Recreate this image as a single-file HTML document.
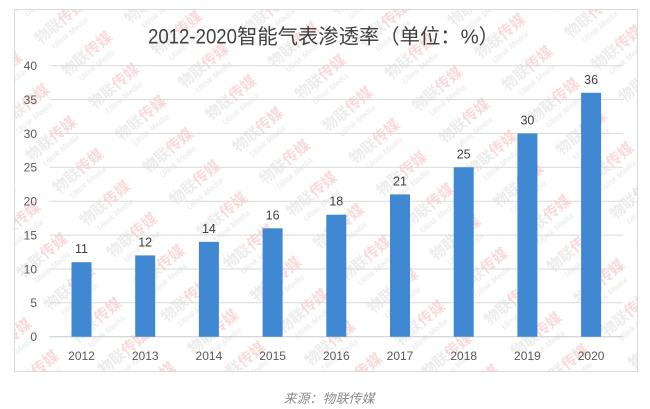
<!DOCTYPE html>
<html>
<head>
<meta charset="utf-8">
<style>
  html,body{margin:0;padding:0;background:#fff;}
  svg{display:block;}
</style>
</head>
<body>
<svg width="650" height="409" viewBox="0 0 650 409" xmlns="http://www.w3.org/2000/svg">
  <defs>
    <clipPath id="frameClip"><rect x="15" y="10" width="622" height="361"/></clipPath>
    <pattern id="wm" width="82" height="42" patternUnits="userSpaceOnUse" patternTransform="rotate(-40)">
      <text x="2" y="18" font-family="'Liberation Sans','Noto Sans CJK SC',sans-serif" font-size="15" font-weight="bold" fill="#ececec">物联<tspan fill="#f8dada">传媒</tspan></text>
      <text x="10" y="31" font-family="'Liberation Sans',sans-serif" font-size="8" font-style="italic" font-weight="bold" fill="#ededed">Ulink Media</text>
    </pattern>
  </defs>

  <rect x="0" y="0" width="650" height="409" fill="#fff"/>
  <g clip-path="url(#frameClip)">
    <rect x="15" y="10" width="622" height="361" fill="url(#wm)"/>
  </g>
  <rect x="14.5" y="9.5" width="623" height="362" fill="none" stroke="#d9d9d9" stroke-width="1"/>

  <!-- Title -->
  <text x="148" y="43.3" font-family="'Liberation Sans',sans-serif" font-size="21" fill="#404040" textLength="89" lengthAdjust="spacingAndGlyphs">2012-2020</text>
  <text x="237" y="43.5" font-family="'Liberation Sans','Noto Sans CJK SC',sans-serif" font-size="20.5" fill="#404040" textLength="262" lengthAdjust="spacingAndGlyphs">智能气表渗透率（单位：%）</text>

  <!-- Gridlines -->
  <g stroke="#d9d9d9" stroke-width="1">
    <line x1="49.6" x2="622.8" y1="65.7" y2="65.7"/>
    <line x1="49.6" x2="622.8" y1="99.6" y2="99.6"/>
    <line x1="49.6" x2="622.8" y1="133.45" y2="133.45"/>
    <line x1="49.6" x2="622.8" y1="167.3" y2="167.3"/>
    <line x1="49.6" x2="622.8" y1="201.2" y2="201.2"/>
    <line x1="49.6" x2="622.8" y1="235.1" y2="235.1"/>
    <line x1="49.6" x2="622.8" y1="268.95" y2="268.95"/>
    <line x1="49.6" x2="622.8" y1="302.8" y2="302.8"/>
  </g>
  <line x1="49.6" x2="622.8" y1="336.7" y2="336.7" stroke="#c8c8c8" stroke-width="1"/>

  <!-- Y labels -->
  <g font-family="'Liberation Sans',sans-serif" font-size="12" fill="#595959" text-anchor="end">
    <text x="37" y="70">40</text>
    <text x="37" y="103.9">35</text>
    <text x="37" y="137.8">30</text>
    <text x="37" y="171.6">25</text>
    <text x="37" y="205.5">20</text>
    <text x="37" y="239.4">15</text>
    <text x="37" y="273.3">10</text>
    <text x="37" y="307.1">5</text>
    <text x="37" y="341">0</text>
  </g>

  <!-- Bars -->
  <g fill="#4088d2">
    <rect x="71.5"  y="262.2"  width="20" height="74.5"/>
    <rect x="135.2" y="255.4"  width="20" height="81.3"/>
    <rect x="198.9" y="241.85" width="20" height="94.85"/>
    <rect x="262.6" y="228.3"  width="20" height="108.4"/>
    <rect x="326.3" y="214.75" width="20" height="121.95"/>
    <rect x="390"   y="194.4"  width="20" height="142.3"/>
    <rect x="453.7" y="167.3"  width="20" height="169.4"/>
    <rect x="517.4" y="133.45" width="20" height="203.25"/>
    <rect x="581.1" y="92.8"   width="20" height="243.9"/>
  </g>

  <!-- Data labels -->
  <g font-family="'Liberation Sans',sans-serif" font-size="12.5" fill="#404040" text-anchor="middle">
    <text x="81.5"  y="253.2">11</text>
    <text x="145.2" y="246.4">12</text>
    <text x="208.9" y="232.8">14</text>
    <text x="272.6" y="219.3">16</text>
    <text x="336.3" y="205.7">18</text>
    <text x="400"   y="185.4">21</text>
    <text x="463.7" y="158.3">25</text>
    <text x="527.4" y="124.4">30</text>
    <text x="591.1" y="83.8">36</text>
  </g>

  <!-- X labels -->
  <g font-family="'Liberation Sans',sans-serif" font-size="12" fill="#595959" text-anchor="middle">
    <text x="81.5"  y="359.8">2012</text>
    <text x="145.2" y="359.8">2013</text>
    <text x="208.9" y="359.8">2014</text>
    <text x="272.6" y="359.8">2015</text>
    <text x="336.3" y="359.8">2016</text>
    <text x="400"   y="359.8">2017</text>
    <text x="463.7" y="359.8">2018</text>
    <text x="527.4" y="359.8">2019</text>
    <text x="591.1" y="359.8">2020</text>
  </g>

  <!-- Source -->
  <text x="329" y="403" font-family="'Liberation Sans','Noto Sans CJK SC',sans-serif" font-size="13" font-style="italic" fill="#8c8c8c" text-anchor="middle">来源：物联传媒</text>
</svg>
</body>
</html>
